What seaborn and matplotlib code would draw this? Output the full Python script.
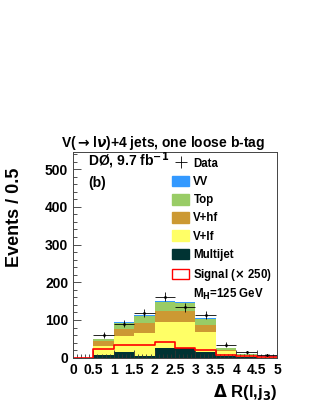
import matplotlib
matplotlib.use("Agg")
import matplotlib.pyplot as plt
import numpy as np
import pandas as pd
import seaborn as sns
from matplotlib.lines import Line2D
from matplotlib.patches import Patch
from matplotlib.ticker import MultipleLocator

BIN_EDGES = [0.0, 0.5, 1.0, 1.5, 2.0, 2.5, 3.0, 3.5, 4.0, 4.5, 5.0]
BIN_CENTERS = [0.25, 0.75, 1.25, 1.75, 2.25, 2.75, 3.25, 3.75, 4.25, 4.75]

# per-bin yields (not cumulative)
MULTIJET = [0, 7, 15, 5, 27, 26, 15, 4, 2, 0.5]
V_LF = [0, 25, 43, 61, 68, 68, 52, 14, 4, 1.5]
V_HF = [0, 11, 18, 25, 30, 31, 20, 2.5, 1, 0.5]
TOP = [0, 6, 15, 20, 22, 20, 15, 5, 2, 0.7]
VV = [0, 1.5, 3, 3.5, 3, 3.5, 3, 1.5, 0.8, 0.3]
SIGNAL = [0, 24, 33, 33.5, 41.5, 27, 20, 6, 3.5, 1]
DATA = [0, 61, 90, 119, 162, 134, 113, 35, 14, 7]
DATA_ERR = [0, 8, 9.5, 11, 12.7, 11.6, 10.6, 6, 3.7, 2.6]

PROCESSES = ["VV", "Top", "V+hf", "V+lf", "Multijet"]
COLORS = {"VV": "#3399ff", "Top": "#99cc66", "V+hf": "#cc9933", "V+lf": "#ffff66", "Multijet": "#003333"}

plt.rcParams["font.family"] = ["Liberation Sans", "DejaVu Sans"]
plt.rcParams["font.weight"] = "bold"

bkg = pd.DataFrame({
    "dr": BIN_CENTERS * 5,
    "process": sum([[p] * len(BIN_CENTERS) for p in PROCESSES], []),
    "events": VV + TOP + V_HF + V_LF + MULTIJET,
})

fig = plt.figure(figsize=(3.16, 4.09), dpi=100)
ax = fig.add_axes([0.231, 0.1254, 0.646, 0.5026])

sns.histplot(data=bkg, x="dr", weights="events", hue="process", hue_order=PROCESSES,
             palette=COLORS, bins=BIN_EDGES, multiple="stack", element="step",
             linewidth=0, alpha=1, legend=False, ax=ax)
sns.histplot(x=BIN_CENTERS, weights=SIGNAL, bins=BIN_EDGES, element="step", fill=False,
             color="red", linewidth=1.2, ax=ax)

mask = np.array(DATA) > 0
ax.errorbar(np.array(BIN_CENTERS)[mask], np.array(DATA)[mask], xerr=0.25,
            yerr=np.array(DATA_ERR)[mask], fmt="none", ecolor="black", elinewidth=0.6)
ax.plot(np.array(BIN_CENTERS)[mask], np.array(DATA)[mask], "k.", markersize=2)

ax.set_xlim(0, 5)
ax.set_ylim(0, 545)
ax.xaxis.set_major_locator(MultipleLocator(0.5))
ax.xaxis.set_minor_locator(MultipleLocator(0.1))
ax.yaxis.set_major_locator(MultipleLocator(100))
ax.yaxis.set_minor_locator(MultipleLocator(20))
ax.tick_params(which="both", direction="in", labelsize=10, width=0.6, colors="#333333", labelcolor="black")
ax.tick_params(which="major", length=6)
ax.tick_params(which="minor", length=3)
ax.set_xticks([0, 0.5, 1, 1.5, 2, 2.5, 3, 3.5, 4, 4.5, 5])
ax.set_xticklabels(["0", "0.5", "1", "1.5", "2", "2.5", "3", "3.5", "4", "4.5", "5"])
for spine in ax.spines.values():
    spine.set_linewidth(0.7)
    spine.set_color("#444444")

ax.set_xlabel(r"$\Delta$ R(l,j$_3$)", fontsize=12, fontweight="bold", loc="right", labelpad=4)
ax.set_ylabel("Events / 0.5", fontsize=13, fontweight="bold")
ax.yaxis.set_label_coords(-0.245, 0.685)
ax.set_title(r"V($\rightarrow$l$\nu$)+4 jets, one loose b-tag", fontsize=10, fontweight="bold",
             pad=2, x=0.44)

ax.text(0.075, 0.958, r"DØ, 9.7 fb$^{-1}$", transform=ax.transAxes, fontsize=10,
        fontweight="bold", va="center")
ax.text(0.075, 0.85, "(b)", transform=ax.transAxes, fontsize=10, fontweight="bold", va="center")

handles = [Line2D([], [], color="black", marker="+", markersize=9, linestyle="none", markeredgewidth=0.6)]
handles += [Patch(facecolor=COLORS[p], edgecolor=COLORS[p]) for p in PROCESSES]
handles += [Patch(facecolor="white", edgecolor="red", linewidth=1.0)]
labels = ["Data"] + PROCESSES + [r"Signal ($\times$ 250)"]
ax.legend(handles, labels, loc="upper left", bbox_to_anchor=(0.46, 1.0), frameon=False,
          fontsize=8.3, handlelength=1.5, handleheight=1.05, handletextpad=0.35,
          labelspacing=0.52, borderaxespad=0.05)
ax.text(0.59, 0.31, r"M$_\mathbf{H}$=125 GeV", transform=ax.transAxes, fontsize=8.3,
        fontweight="bold", va="center")

fig.savefig("out.png", dpi=100)
